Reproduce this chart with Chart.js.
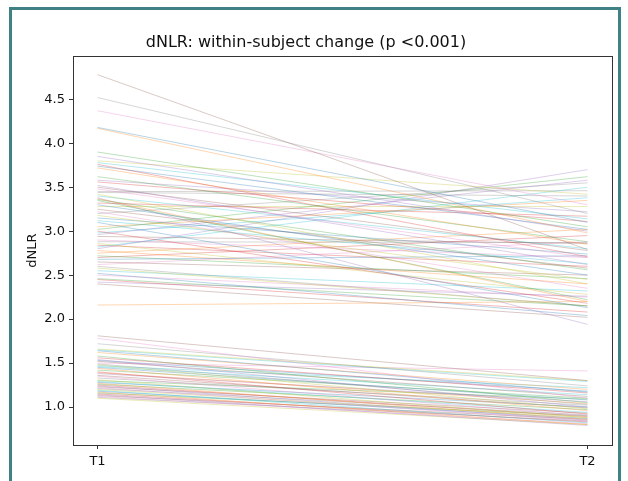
<!DOCTYPE html>
<html lang="en">
<head>
<meta charset="UTF-8">
<title>dNLR within-subject change</title>
<script src="https://cdn.jsdelivr.net/npm/chart.js@4.4.0/dist/chart.umd.min.js"></script>
<style>
    html, body { margin: 0; padding: 0; background: #fff; }
    #wrap { position: relative; width: 628px; height: 481px; overflow: hidden; }
    #frame {
        position: absolute; left: 9px; top: 7px; width: 612px; height: 500px;
        border: 3px solid #3f8184; box-sizing: border-box; pointer-events: none;
    }
    canvas { position: absolute; left: 0; top: 0; }
</style>
</head>
<body>
<div id="wrap">
    <canvas id="pairChart" width="628" height="481"></canvas>
    <div id="frame"></div>
</div>
<script>
// time points and tick values
const timeLabels = ['T1', 'T2'];
const yTicks = [1.0, 1.5, 2.0, 2.5, 3.0, 3.5, 4.0, 4.5];

// dNLR per subject at T1 and T2 (same order)
const dnlrT1 = [
    4.18, 4.17, 3.90, 3.76, 3.85, 4.78, 4.37, 4.52, 3.80, 3.78,
    3.74, 3.72, 3.62, 3.56, 3.52, 3.50, 3.48, 3.44, 3.42, 3.40,
    3.30, 3.37, 3.35, 3.32, 3.38, 3.25, 3.22, 3.20, 3.18, 3.12,
    3.10, 3.05, 3.02, 3.00, 2.96, 2.94, 2.90, 2.88, 2.86, 2.82,
    2.68, 2.78, 2.72, 2.70, 2.80, 2.65, 2.62, 2.60, 2.58, 2.55,
    2.52, 2.16, 2.46, 2.45, 2.42, 2.40, 2.50, 3.45, 3.28, 2.98,
    3.15, 2.75, 3.36, 2.84, 3.58,
    1.81, 1.78, 1.72, 1.66, 1.65, 1.64, 1.62, 1.58, 1.56, 1.54,
    1.52, 1.50, 1.49, 1.48, 1.46, 1.45, 1.44, 1.42, 1.40, 1.38,
    1.36, 1.35, 1.33, 1.31, 1.29, 1.28, 1.27, 1.26, 1.25, 1.24,
    1.23, 1.22, 1.21, 1.20, 1.19, 1.18, 1.17, 1.16, 1.15, 1.14,
    1.13, 1.12, 1.11, 1.10, 1.47, 1.53, 1.39, 1.30
];
const dnlrT2 = [
    3.10, 2.98, 3.05, 2.71, 3.00, 2.79, 3.30, 3.20, 3.42, 3.14,
    3.02, 2.85, 2.88, 3.11, 2.62, 2.78, 2.70, 3.40, 2.40, 2.80,
    2.50, 2.20, 2.22, 3.17, 1.94, 2.58, 2.35, 3.55, 2.45, 2.63,
    2.13, 3.35, 3.62, 2.18, 3.58, 2.86, 2.70, 2.87, 2.28, 3.50,
    2.72, 2.40, 2.46, 2.95, 3.70, 2.50, 2.88, 2.15, 2.15, 2.32,
    2.04, 2.20, 2.15, 2.08, 2.26, 2.02, 2.25, 3.46, 3.28, 3.38,
    2.74, 3.02, 2.56, 2.60, 3.22,
    1.30, 1.10, 1.24, 1.30, 1.29, 1.17, 1.20, 1.05, 1.16, 1.00,
    1.12, 1.41, 1.03, 0.98, 1.14, 1.08, 0.96, 1.10, 0.92, 1.06,
    0.99, 0.90, 1.02, 0.88, 0.94, 1.00, 0.86, 0.97, 0.89, 0.85,
    0.93, 0.84, 0.91, 0.88, 0.82, 0.87, 0.80, 0.90, 0.83, 0.79,
    0.86, 0.81, 0.84, 0.80, 1.22, 1.18, 1.04, 1.09
];

const tab10 = ['31,119,180', '255,127,14', '44,160,44', '214,39,40', '148,103,189',
               '140,86,75', '227,119,194', '127,127,127', '188,189,34', '23,190,207'];

const datasets = dnlrT1.map((v, i) => ({
    data: [{ x: 0, y: v }, { x: 1, y: dnlrT2[i] }],
    borderColor: `rgba(${tab10[i % 10]},0.4)`,
    borderWidth: 0.8,
    pointRadius: 0,
    fill: false
}));

// top/right spines like matplotlib
const boxPlugin = {
    id: 'box',
    afterDraw(chart) {
        const { ctx, chartArea: a } = chart;
        ctx.save();
        ctx.strokeStyle = '#333';
        ctx.lineWidth = 1;
        ctx.strokeRect(Math.round(a.left) + 0.5, Math.round(a.top) + 0.5,
            Math.round(a.right - a.left), Math.round(a.bottom - a.top));
        ctx.restore();
    }
};

Chart.defaults.font.family = '"DejaVu Sans", sans-serif';
Chart.defaults.color = '#111';

new Chart(document.getElementById('pairChart'), {
    type: 'line',
    data: { datasets },
    plugins: [boxPlugin],
    options: {
        responsive: false,
        animation: false,
        layout: { padding: { left: 0, right: 16, top: 0, bottom: 0 } },
        plugins: {
            legend: { display: false },
            tooltip: { enabled: false },
            title: {
                display: true,
                text: 'dNLR: within-subject change (p <0.001)',
                font: { size: 16, weight: 'normal' },
                color: '#111',
                padding: { top: 33, bottom: 4 }
            }
        },
        scales: {
            x: {
                type: 'linear',
                min: -0.05,
                max: 1.05,
                afterBuildTicks: axis => { axis.ticks = timeLabels.map((_, i) => ({ value: i })); },
                afterFit: scale => { scale.height = 36; },
                ticks: {
                    callback: v => timeLabels[v],
                    font: { size: 13 },
                    padding: 5,
                    maxRotation: 0
                },
                grid: { drawOnChartArea: false, tickLength: 4, color: '#333' },
                border: { color: '#333', width: 1 }
            },
            y: {
                min: 0.568,
                max: 4.99,
                afterBuildTicks: axis => { axis.ticks = yTicks.map(v => ({ value: v })); },
                afterFit: scale => { scale.width = 73; },
                ticks: {
                    callback: v => v.toFixed(1),
                    font: { size: 13 },
                    padding: 4
                },
                title: {
                    display: true,
                    text: 'dNLR',
                    font: { size: 13 },
                    color: '#111',
                    padding: { top: 25 }
                },
                grid: { drawOnChartArea: false, tickLength: 4, color: '#333' },
                border: { color: '#333', width: 1 }
            }
        }
    }
});
</script>
</body>
</html>
